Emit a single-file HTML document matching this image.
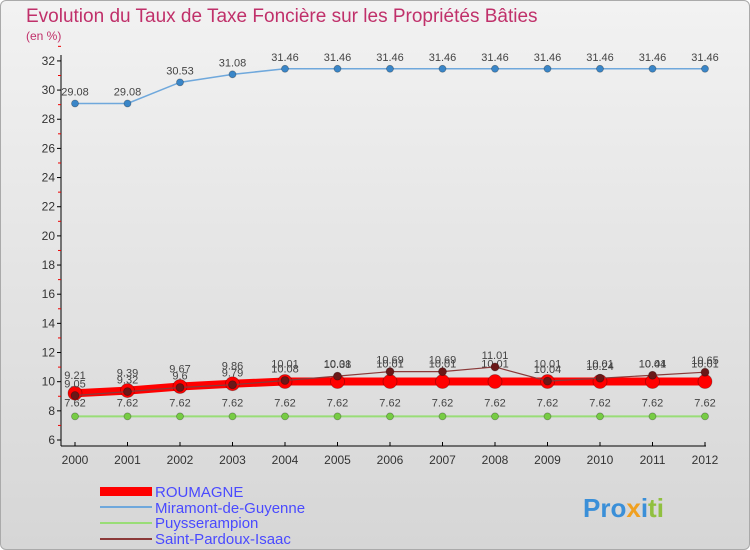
<!DOCTYPE html>
<html><head><meta charset="utf-8"><style>
body{margin:0;width:750px;height:550px;overflow:hidden;font-family:"Liberation Sans",sans-serif}
#bg{position:absolute;left:0;top:0;width:748px;height:548px;border:1px solid #aaa;border-radius:6px;background:linear-gradient(#f2f2f2,#d6d6d6)}
</style></head><body>
<div id="bg"></div>
<svg id="c" width="750" height="550" style="position:absolute;left:0;top:0">
<text x="26" y="22" font-size="19" fill="#c0306a">Evolution du Taux de Taxe Foncière sur les Propriétés Bâties</text>
<text x="26" y="40" font-size="12" fill="#c0306a">(en %)</text>
<g id="axes"></g><g id="series"></g>
<g font-size="15" fill="#4a4aff">
<rect x="100" y="487" width="52" height="9" fill="#ff0000"/>
<text x="155" y="497">ROUMAGNE</text>
<line x1="100" y1="507" x2="152" y2="507" stroke="#6fa8dc" stroke-width="2"/>
<text x="155" y="513">Miramont-de-Guyenne</text>
<line x1="100" y1="523" x2="152" y2="523" stroke="#99dd77" stroke-width="2"/>
<text x="155" y="528">Puysserampion</text>
<line x1="100" y1="539" x2="152" y2="539" stroke="#8b3a3a" stroke-width="2"/>
<text x="155" y="544">Saint-Pardoux-Isaac</text>
</g>
<text x="583" y="517" font-size="26" font-weight="bold"><tspan fill="#3a8fd8">Pro</tspan><tspan fill="#f0a020">x</tspan><tspan fill="#3a8fd8">i</tspan><tspan fill="#90c040">ti</tspan></text>
</svg>
<script>
const years=[2000,2001,2002,2003,2004,2005,2006,2007,2008,2009,2010,2011,2012];
const roumagne=[9.21,9.39,9.67,9.86,10.01,10.01,10.01,10.01,10.01,10.01,10.01,10.01,10.01];
const miramont=[29.08,29.08,30.53,31.08,31.46,31.46,31.46,31.46,31.46,31.46,31.46,31.46,31.46];
const puyss=[7.62,7.62,7.62,7.62,7.62,7.62,7.62,7.62,7.62,7.62,7.62,7.62,7.62];
const stpardoux=[9.05,9.32,9.6,9.79,10.08,10.38,10.69,10.69,11.01,10.04,10.24,10.44,10.65];
const yTicks=[6,8,10,12,14,16,18,20,22,24,26,28,30,32];
const NS='http://www.w3.org/2000/svg';
const X=i=>75+i*52.5, Y=v=>440-(v-6)*14.58;
function mk(p,t,a){const e=document.createElementNS(NS,t);for(const k in a)e.setAttribute(k,a[k]);p.appendChild(e);return e;}
const ax=document.getElementById('axes'), se=document.getElementById('series');
let l=mk(ax,'line',{x1:61,y1:55,x2:61,y2:446,stroke:'#000'});


l=mk(ax,'line',{x1:61,y1:446,x2:706,y2:446,stroke:'#000'});


yTicks.forEach(v=>{mk(ax,'line',{x1:57,y1:Y(v),x2:61,y2:Y(v),stroke:'#000'});
 mk(ax,'line',{x1:58,y1:Y(v+1),x2:61,y2:Y(v+1),stroke:'#e00'});
 const t=mk(ax,'text',{x:55,y:Y(v)+4,'font-size':12,'text-anchor':'end',fill:'#333'});t.textContent=v;
 
 });
years.forEach((y,i)=>{mk(ax,'line',{x1:X(i),y1:442,x2:X(i),y2:446,stroke:'#000'});
 const t=mk(ax,'text',{x:X(i),y:464,'font-size':12,'text-anchor':'middle',fill:'#333'});t.textContent=y;
 
 });
function series(d,name,color,w,r,dot,lab,dy){
 const g=mk(se,'g',{});
 
 
 mk(g,'polyline',{points:d.map((v,i)=>X(i)+','+Y(v)).join(' '),fill:'none',stroke:color,'stroke-width':w});
 d.forEach((v,i)=>{const c=mk(g,'circle',{cx:X(i),cy:Y(v),r:r,fill:dot,stroke:'rgba(0,0,0,0.3)','stroke-width':0.8});
  
  
  if(lab){const t=mk(g,'text',{x:X(i),y:Y(v)+dy,'font-size':11,'text-anchor':'middle',fill:'#444'});t.textContent=v;
  
  }});
}
series(miramont,'miramont-series','#6fa8dc',1.5,3.5,'#3a86c8',1,-8);
series(puyss,'puysserampion-series','#99dd77',2,3.5,'#77cc44',1,-10);
series(roumagne,'roumagne-series','#ff0000',8,7,'#ff0000',1,-14);
series(stpardoux,'saint-pardoux-series','#8b3a3a',1.2,4,'#6a1818',1,-8);
</script>
</body></html>
